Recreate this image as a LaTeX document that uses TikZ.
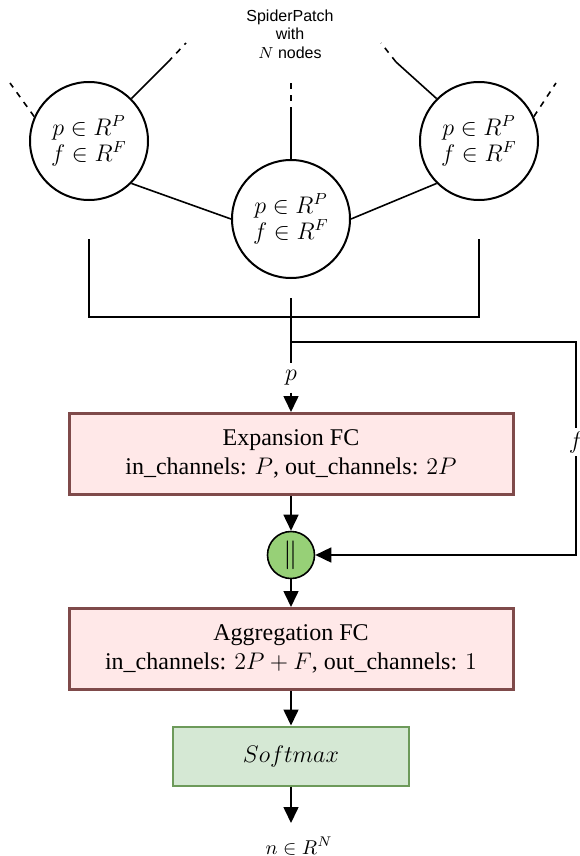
\documentclass[tikz,border=0pt]{standalone}
\usepackage[no-math]{fontspec}
\setmainfont{Liberation Serif}
\newfontfamily\labelfont{Liberation Sans}
\usepackage{amsmath,amssymb}
\usetikzlibrary{arrows.meta}

\definecolor{fcred}{HTML}{7F4A4A}
\definecolor{fcpink}{HTML}{FFE8E8}
\definecolor{smgreen}{HTML}{6D9A5A}
\definecolor{smfill}{HTML}{D5E8D4}
\definecolor{catgreen}{HTML}{97D077}

\tikzset{
  wire/.style={line width=0.8pt},
  arr/.style={line width=0.8pt, -{Triangle[width=7.5pt,length=8pt]}},
  patch/.style={circle, draw, line width=1pt, minimum size=59pt, inner sep=0pt,
    align=center, font=\fontsize{11.5}{11.5}\selectfont},
  fcbox/.style={draw=fcred, fill=fcpink, line width=1.5pt, minimum width=222pt,
    minimum height=40.5pt, align=center, font=\fontsize{12}{14.5}\selectfont},
}

\begin{document}
\begin{tikzpicture}[x=0.5pt, y=-0.5pt]
\useasboundingbox (0,0) rectangle (579,856);
% spider patch
    \node[font=\labelfont\fontsize{8}{9.2}\selectfont, align=center] (title) at (290,34)
      {SpiderPatch\\with\\$N$ nodes};
    \node[patch] (c1) at (89,141)  {$p \in R^P$\\$f \in R^F$};
    \node[patch] (c2) at (291,219) {$p \in R^P$\\$f \in R^F$};
    \node[patch] (c3) at (479,141) {$p \in R^P$\\$f \in R^F$};
    \draw[wire] (c1.-45) -- (c2.west);
    \draw[wire] (c3.-135) -- (c2.east);
% edges leaving the patch
    \coordinate (c1a) at (168,62);
    \coordinate (c1b) at (186,43);
    \coordinate (c1d) at (10,83);
    \coordinate (c2a) at (291,113);
    \coordinate (c2b) at (291,83);
    \coordinate (c3a) at (396,62);
    \coordinate (c3b) at (381,43);
    \coordinate (c3d) at (556,83);
    \draw[wire] (c1.45) -- (c1a);
    \draw[wire, dashed] (c1a) -- (c1b);
    \draw[wire, dashed] (c1.156) -- (c1d);
    \draw[wire] (c2.north) -- (c2a);
    \draw[wire, dashed] (c2a) -- (c2b);
    \draw[wire] (c3.135) -- (c3a);
    \draw[wire, dashed] (c3a) -- (c3b);
    \draw[wire, dashed] (c3.24) -- (c3d);
% gather nodes
    \coordinate (brl) at (89,239);
    \coordinate (brr) at (479,239);
    \draw[wire] (brl) -- (89,317) -- (479,317) -- (brr);
    \coordinate (mtop) at (291,298);
    \coordinate (mbot) at (291,363);
    \coordinate (fj) at (291,342);
    \coordinate (fc) at (576,342);
    \coordinate (fd) at (576,555);
    \draw[wire] (mtop) -- (mbot);
    \node[font=\fontsize{12}{12}\selectfont] (plab) at (291,378) {$p$};
% layers
    \node[fcbox] (exp) at (291,454) {Expansion FC\\in\_channels: $P$, out\_channels: $2P$};
    \node[circle, draw, line width=0.8pt, fill=catgreen, minimum size=23.5pt, inner sep=0pt,
      font=\Large] (cat) at (291,555) {$\|$};
    \node[fcbox] (agg) at (291,649) {Aggregation FC\\in\_channels: $2P+F$, out\_channels: $1$};
    \node[draw=smgreen, fill=smfill, line width=1pt, minimum width=118pt, minimum height=29.5pt,
      font=\fontsize{11.5}{11.5}\selectfont] (soft) at (291,756) {$Softmax$};
    \node[font=\fontsize{10}{10}\selectfont] (out) at (299,846) {$n \in R^N$};
    \coordinate (otip) at (291,823);
% arrows
    \draw[arr] (plab) -- (exp);
    \draw[arr] (fj) -- (fc) -- node[pos=0.47, fill=white, inner sep=1.5pt,
      font=\fontsize{12}{12}\selectfont] (flab) {$f$} (fd) -- (cat);
    \draw[arr] (exp) -- (cat);
    \draw[arr] (cat) -- (agg);
    \draw[arr] (agg) -- (soft);
    \draw[arr] (soft) -- (otip);
\end{tikzpicture}
\end{document}
